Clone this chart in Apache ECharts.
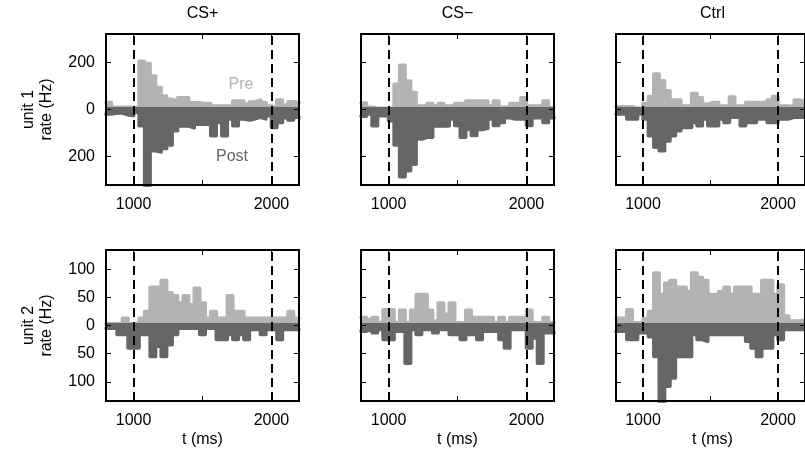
<!DOCTYPE html>
<html><head><meta charset="utf-8">
<script src="https://cdn.jsdelivr.net/npm/echarts@6/dist/echarts.min.js"></script>
<style>html,body{margin:0;padding:0;background:#fff}#c{width:805px;height:457px}</style>
</head><body><div id="c"></div>
<script>
// ---- data ----
const binEdges = [800,840,880,920,960,1000,1040,1080,1120,1160,1200,1240,1280,1320,1360,1400,1440,1480,1520,1560,1600,1640,1680,1720,1760,1800,1840,1880,1920,1960,2000,2040,2080,2120,2160,2200];
const conditions = ['CS+', 'CS\u2212', 'Ctrl'];
const unitNames = ['unit 1', 'unit 2'];
const eventTimes = [1000, 2000];
const xTicks = [1000, 1500, 2000];
const xTickLabels = [1000, 2000];
const yTicksUnit1 = [-200, 0, 200];
const yTicksUnit2 = [-100, -50, 0, 50, 100];
const yLimUnit1 = 320;
const yLimUnit2 = 134;

// Pre rates (Hz), unit 1
const preU1CSplus  = [30,10,10,10,8,8,205,195,142,93,57,43,36,50,50,29,29,25,25,15,15,15,15,36,36,22,32,40,30,15,10,40,18,33,30];
const preU1CSminus = [28,10,5,5,5,5,107,188,121,72,15,15,25,15,25,15,15,25,25,36,36,36,36,15,36,10,10,25,25,50,15,15,15,36,8];
const preU1Ctrl    = [12,12,12,5,5,25,55,150,122,80,40,40,15,15,68,50,22,30,30,15,15,53,15,15,30,30,30,30,40,55,15,15,12,40,35];
// Post rates (Hz), unit 1 (plotted downward)
const postU1CSplus  = [19,15,15,23,26,12,69,330,175,180,165,150,90,70,70,78,62,62,65,111,55,111,40,69,40,45,40,33,40,26,76,55,35,45,33];
const postU1CSminus = [29,19,69,26,26,48,150,285,260,232,125,118,118,70,70,70,40,68,118,85,110,85,80,40,68,55,35,40,40,40,68,35,35,55,35];
const postU1Ctrl    = [19,19,40,40,19,40,111,160,175,133,111,90,76,76,55,69,40,69,69,40,55,33,33,69,55,55,40,40,55,55,40,40,33,33,33];
// Pre rates (Hz), unit 2
const preU2CSplus  = [3,3,3,13,3,3,13,25,68,68,80,58,53,40,53,37,66,40,13,25,13,13,53,25,25,13,13,13,13,13,13,13,13,25,13];
const preU2CSminus = [14,10,14,5,28,28,5,27,5,27,55,55,27,8,40,20,40,5,5,27,14,14,14,14,5,14,5,14,14,14,27,5,5,14,5];
const preU2Ctrl    = [13,13,28,5,5,12,25,93,55,75,80,68,68,60,93,85,80,55,55,60,68,55,68,68,68,55,55,80,80,55,72,17,8,8,10];
// Post rates (Hz), unit 2
const postU2CSplus  = [5,5,16,16,40,40,16,16,55,37,55,34,16,5,5,5,5,16,5,5,25,25,16,25,16,25,7,7,16,7,7,25,7,7,7];
const postU2CSminus = [10,7,13,7,25,25,10,10,67,7,16,7,7,13,7,7,16,16,25,16,16,25,10,10,10,25,40,7,7,7,40,22,67,13,13];
const postU2Ctrl    = [10,10,25,25,13,13,20,55,140,108,93,55,55,55,16,25,28,16,16,16,16,16,16,16,28,40,55,40,40,16,25,7,7,7,7];

// ---- layout / style ----
const PRE_COLOR = '#b3b3b3';
const POST_COLOR = '#666666';
const FONT = '"Liberation Sans", Arial, Helvetica, sans-serif';
const FS = 16;
const gridLeft = [106, 361, 616];
const gridTop = [34, 250];
const W = 193, H = 151;

const panels = [
  {row:0, col:0, pre:preU1CSplus,  post:postU1CSplus},
  {row:0, col:1, pre:preU1CSminus, post:postU1CSminus},
  {row:0, col:2, pre:preU1Ctrl,    post:postU1Ctrl},
  {row:1, col:0, pre:preU2CSplus,  post:postU2CSplus},
  {row:1, col:1, pre:preU2CSminus, post:postU2CSminus},
  {row:1, col:2, pre:preU2Ctrl,    post:postU2Ctrl}
];

function stepSeries(vals, sign, color, xi, yi) {
  const data = vals.map((v, k) => [binEdges[k], sign * v]);
  data.push([binEdges[binEdges.length - 1], sign * vals[vals.length - 1]]);
  return {
    type: 'line', xAxisIndex: xi, yAxisIndex: yi, step: 'end', data,
    symbol: 'none', showSymbol: false, clip: true, silent: true, animation: false, z: 2,
    lineStyle: {color, width: 3.5, cap: 'round', join: 'round'},
    itemStyle: {color},
    areaStyle: {color, opacity: 1, origin: 'auto'}
  };
}

const grid = [], xAxis = [], yAxis = [], series = [];
panels.forEach((p, i) => {
  grid.push({left: gridLeft[p.col], top: gridTop[p.row], width: W, height: H,
    show: true, borderColor: '#000', borderWidth: 2, backgroundColor: '#fff'});
  const lim = p.row === 0 ? yLimUnit1 : yLimUnit2;
  const yt = p.row === 0 ? yTicksUnit1 : yTicksUnit2;
  const axisLine = {show: true, onZero: false, lineStyle: {color: '#000', width: 2}};
  const tick = vals => ({show: true, inside: true, length: 5, customValues: vals, lineStyle: {color: '#000', width: 1}});
  const lbl = {color: '#000', fontSize: FS, fontFamily: FONT};
  xAxis.push({type: 'value', gridIndex: i, position: 'bottom', min: 800, max: 2200, z: 10,
    axisLine, axisTick: tick(xTicks), splitLine: {show: false},
    axisLabel: Object.assign({show: true, customValues: xTickLabels, margin: 12, formatter: v => String(v)}, lbl)});
  xAxis.push({type: 'value', gridIndex: i, position: 'top', min: 800, max: 2200, z: 10,
    axisLine, axisTick: tick(xTicks), splitLine: {show: false}, axisLabel: {show: false}});
  yAxis.push({type: 'value', gridIndex: i, position: 'left', min: -lim, max: lim, z: 10,
    axisLine, axisTick: tick(yt), splitLine: {show: false},
    axisLabel: Object.assign({show: p.col === 0, customValues: yt, margin: 11, formatter: v => String(Math.abs(v))}, lbl)});
  yAxis.push({type: 'value', gridIndex: i, position: 'right', min: -lim, max: lim, z: 10,
    axisLine, axisTick: tick(yt), splitLine: {show: false}, axisLabel: {show: false}});
  const xi = 2 * i, yi = 2 * i;
  series.push(stepSeries(p.pre, 1, PRE_COLOR, xi, yi));
  series.push(stepSeries(p.post, -1, POST_COLOR, xi, yi));
  series.push({type: 'line', xAxisIndex: xi, yAxisIndex: yi, data: [], z: 5, silent: true, animation: false,
    markLine: {symbol: ['none', 'none'], silent: true, animation: false, label: {show: false},
      data: [{yAxis: 0, lineStyle: {color: POST_COLOR, type: 'solid', width: 5}}]
        .concat(eventTimes.map(t => ({xAxis: t, lineStyle: {color: '#000', type: [9, 5], width: 2}})))}});
});

const graphic = [];
const txt = (text, x, y, opts) => Object.assign({type: 'text', x, y, z: 100, silent: true,
  style: {text, font: FS + 'px ' + FONT, fill: '#000', align: 'center', verticalAlign: 'middle',
    textAlign: 'center', textVerticalAlign: 'middle'}}, opts || {});
conditions.forEach((c, j) => {
  graphic.push(txt(c, gridLeft[j] + W / 2, 14));
  graphic.push(txt('t (ms)', gridLeft[j] + W / 2, 440));
});
unitNames.forEach((u, r) => {
  const cy = gridTop[r] + H / 2;
  graphic.push(txt(u, 29, cy, {rotation: Math.PI / 2}));
  graphic.push(txt('rate (Hz)', 47, cy, {rotation: Math.PI / 2}));
});
const preT = txt('Pre', 241, 85); preT.style.fill = PRE_COLOR; graphic.push(preT);
const postT = txt('Post', 232, 157); postT.style.fill = POST_COLOR; graphic.push(postT);

const chart = echarts.init(document.getElementById('c'), null, {renderer: 'canvas'});
chart.setOption({animation: false, backgroundColor: '#fff', grid, xAxis, yAxis, series, graphic});
</script></body></html>
